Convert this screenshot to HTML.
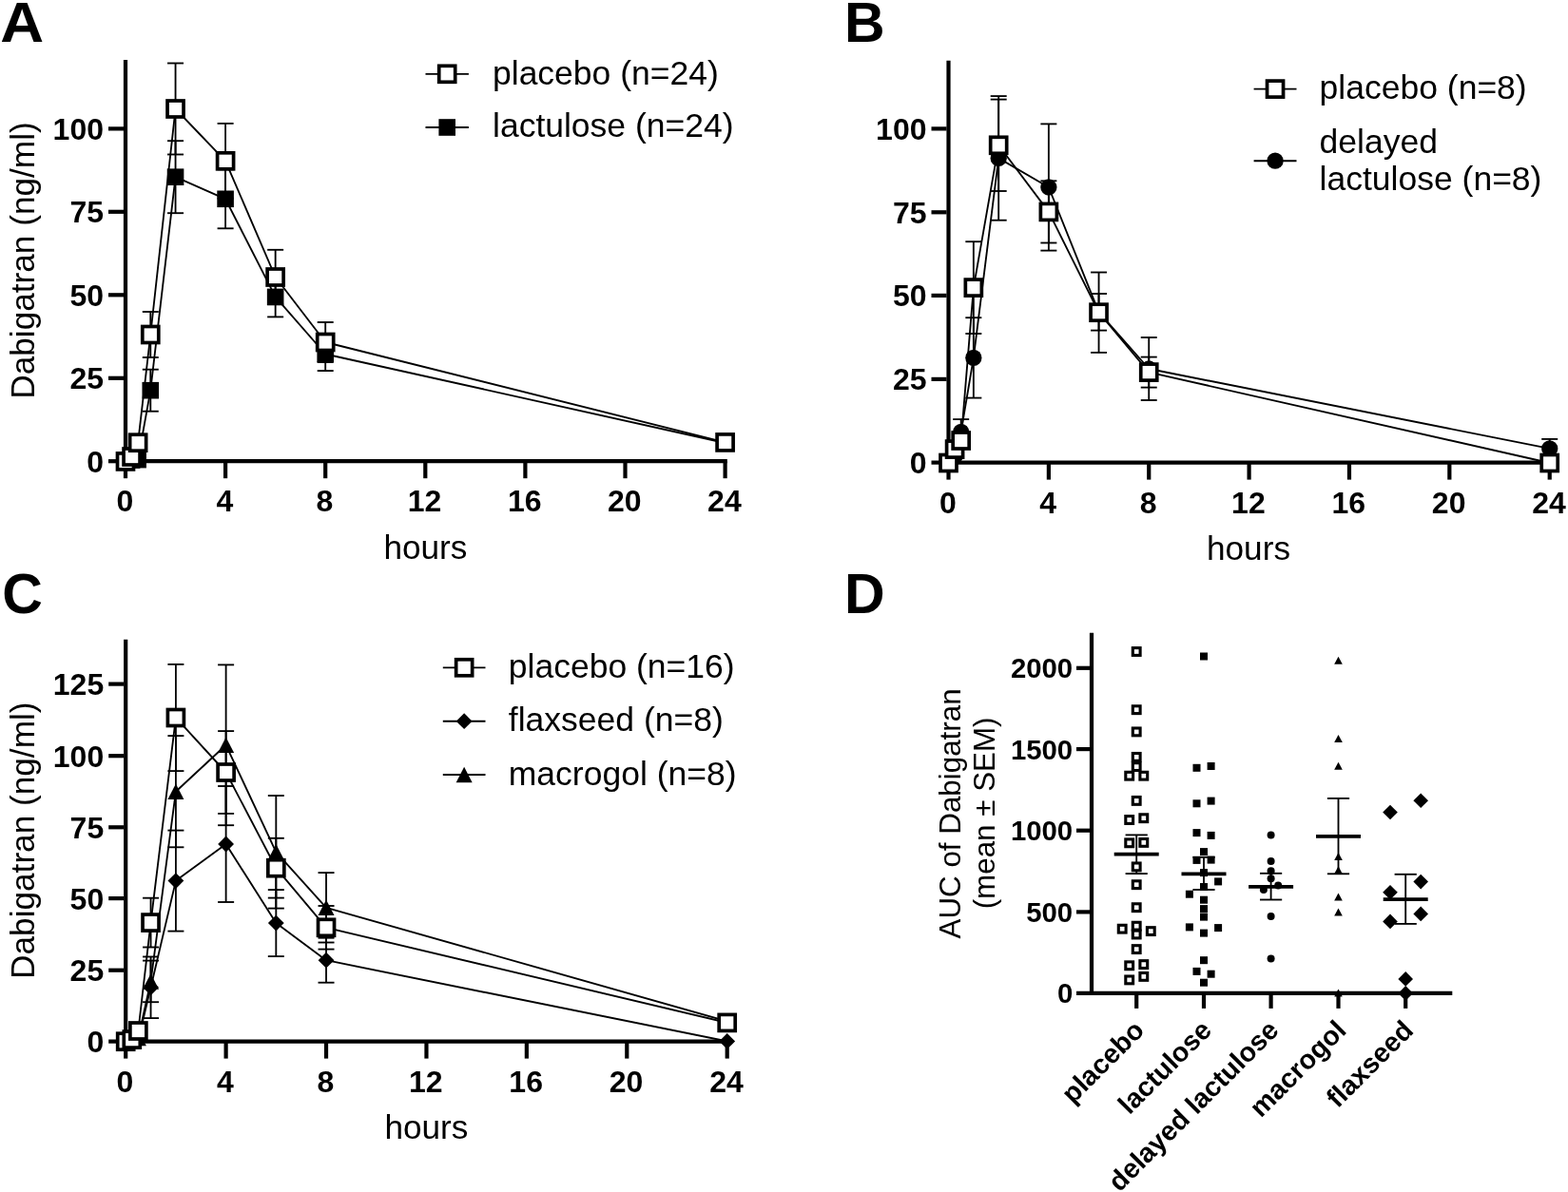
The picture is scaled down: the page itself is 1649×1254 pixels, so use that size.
<!DOCTYPE html>
<html lang="en"><head><meta charset="utf-8"><title>Dabigatran pharmacokinetics figure</title>
<style>html,body{margin:0;padding:0;background:#fff}svg{display:block}text{font-family:'Liberation Sans', sans-serif;fill:#000}</style></head><body>
<svg width="1649" height="1254" viewBox="0 0 1649 1254">
<rect width="1649" height="1254" fill="#fff"/>
<g id="panelA">
<line x1="132.00" y1="63.10" x2="132.00" y2="487.30" stroke="#000" stroke-width="4.2" stroke-linecap="butt"/>
<line x1="129.90" y1="485.20" x2="764.80" y2="485.20" stroke="#000" stroke-width="4.2" stroke-linecap="butt"/>
<line x1="114.00" y1="485.20" x2="130.00" y2="485.20" stroke="#000" stroke-width="4.2" stroke-linecap="butt"/>
<text x="109.00" y="496.60" font-size="32.0" font-weight="bold" text-anchor="end">0</text>
<line x1="114.00" y1="397.80" x2="130.00" y2="397.80" stroke="#000" stroke-width="4.2" stroke-linecap="butt"/>
<text x="109.00" y="409.20" font-size="32.0" font-weight="bold" text-anchor="end">25</text>
<line x1="114.00" y1="310.30" x2="130.00" y2="310.30" stroke="#000" stroke-width="4.2" stroke-linecap="butt"/>
<text x="109.00" y="321.70" font-size="32.0" font-weight="bold" text-anchor="end">50</text>
<line x1="114.00" y1="222.80" x2="130.00" y2="222.80" stroke="#000" stroke-width="4.2" stroke-linecap="butt"/>
<text x="109.00" y="234.20" font-size="32.0" font-weight="bold" text-anchor="end">75</text>
<line x1="114.00" y1="135.40" x2="130.00" y2="135.40" stroke="#000" stroke-width="4.2" stroke-linecap="butt"/>
<text x="109.00" y="146.80" font-size="32.0" font-weight="bold" text-anchor="end">100</text>
<line x1="132.00" y1="485.20" x2="132.00" y2="503.20" stroke="#000" stroke-width="4.2" stroke-linecap="butt"/>
<text x="131.30" y="538.30" font-size="32.0" font-weight="bold" text-anchor="middle">0</text>
<line x1="237.10" y1="485.20" x2="237.10" y2="503.20" stroke="#000" stroke-width="4.2" stroke-linecap="butt"/>
<text x="236.40" y="538.30" font-size="32.0" font-weight="bold" text-anchor="middle">4</text>
<line x1="342.20" y1="485.20" x2="342.20" y2="503.20" stroke="#000" stroke-width="4.2" stroke-linecap="butt"/>
<text x="341.50" y="538.30" font-size="32.0" font-weight="bold" text-anchor="middle">8</text>
<line x1="447.30" y1="485.20" x2="447.30" y2="503.20" stroke="#000" stroke-width="4.2" stroke-linecap="butt"/>
<text x="446.60" y="538.30" font-size="32.0" font-weight="bold" text-anchor="middle">12</text>
<line x1="552.40" y1="485.20" x2="552.40" y2="503.20" stroke="#000" stroke-width="4.2" stroke-linecap="butt"/>
<text x="551.70" y="538.30" font-size="32.0" font-weight="bold" text-anchor="middle">16</text>
<line x1="657.50" y1="485.20" x2="657.50" y2="503.20" stroke="#000" stroke-width="4.2" stroke-linecap="butt"/>
<text x="656.80" y="538.30" font-size="32.0" font-weight="bold" text-anchor="middle">20</text>
<line x1="762.60" y1="485.20" x2="762.60" y2="503.20" stroke="#000" stroke-width="4.2" stroke-linecap="butt"/>
<text x="761.90" y="538.30" font-size="32.0" font-weight="bold" text-anchor="middle">24</text>
<line x1="158.28" y1="388.70" x2="158.28" y2="432.70" stroke="#000" stroke-width="1.85" stroke-linecap="butt"/>
<line x1="149.78" y1="388.70" x2="166.78" y2="388.70" stroke="#000" stroke-width="1.85" stroke-linecap="butt"/>
<line x1="149.78" y1="432.70" x2="166.78" y2="432.70" stroke="#000" stroke-width="1.85" stroke-linecap="butt"/>
<line x1="184.55" y1="148.20" x2="184.55" y2="224.20" stroke="#000" stroke-width="1.85" stroke-linecap="butt"/>
<line x1="176.05" y1="148.20" x2="193.05" y2="148.20" stroke="#000" stroke-width="1.85" stroke-linecap="butt"/>
<line x1="176.05" y1="224.20" x2="193.05" y2="224.20" stroke="#000" stroke-width="1.85" stroke-linecap="butt"/>
<line x1="237.10" y1="178.30" x2="237.10" y2="240.30" stroke="#000" stroke-width="1.85" stroke-linecap="butt"/>
<line x1="228.60" y1="178.30" x2="245.60" y2="178.30" stroke="#000" stroke-width="1.85" stroke-linecap="butt"/>
<line x1="228.60" y1="240.30" x2="245.60" y2="240.30" stroke="#000" stroke-width="1.85" stroke-linecap="butt"/>
<line x1="289.65" y1="291.40" x2="289.65" y2="333.40" stroke="#000" stroke-width="1.85" stroke-linecap="butt"/>
<line x1="281.15" y1="291.40" x2="298.15" y2="291.40" stroke="#000" stroke-width="1.85" stroke-linecap="butt"/>
<line x1="281.15" y1="333.40" x2="298.15" y2="333.40" stroke="#000" stroke-width="1.85" stroke-linecap="butt"/>
<line x1="342.20" y1="354.90" x2="342.20" y2="390.10" stroke="#000" stroke-width="1.85" stroke-linecap="butt"/>
<line x1="333.70" y1="354.90" x2="350.70" y2="354.90" stroke="#000" stroke-width="1.85" stroke-linecap="butt"/>
<line x1="333.70" y1="390.10" x2="350.70" y2="390.10" stroke="#000" stroke-width="1.85" stroke-linecap="butt"/>
<polyline points="132.00,485.20 138.57,484.00 145.14,483.60 158.28,410.70 184.55,186.20 237.10,209.30 289.65,312.40 342.20,372.50 762.60,466.00" fill="none" stroke="#000" stroke-width="1.85" stroke-linejoin="round"/>
<rect x="123.20" y="476.40" width="17.6" height="17.6" fill="#000"/>
<rect x="129.77" y="475.20" width="17.6" height="17.6" fill="#000"/>
<rect x="136.34" y="474.80" width="17.6" height="17.6" fill="#000"/>
<rect x="149.47" y="401.90" width="17.6" height="17.6" fill="#000"/>
<rect x="175.75" y="177.40" width="17.6" height="17.6" fill="#000"/>
<rect x="228.30" y="200.50" width="17.6" height="17.6" fill="#000"/>
<rect x="280.85" y="303.60" width="17.6" height="17.6" fill="#000"/>
<rect x="333.40" y="363.70" width="17.6" height="17.6" fill="#000"/>
<rect x="753.80" y="457.20" width="17.6" height="17.6" fill="#000"/>
<line x1="158.28" y1="328.00" x2="158.28" y2="376.00" stroke="#000" stroke-width="1.85" stroke-linecap="butt"/>
<line x1="149.78" y1="328.00" x2="166.78" y2="328.00" stroke="#000" stroke-width="1.85" stroke-linecap="butt"/>
<line x1="149.78" y1="376.00" x2="166.78" y2="376.00" stroke="#000" stroke-width="1.85" stroke-linecap="butt"/>
<line x1="184.55" y1="66.50" x2="184.55" y2="162.50" stroke="#000" stroke-width="1.85" stroke-linecap="butt"/>
<line x1="176.05" y1="66.50" x2="193.05" y2="66.50" stroke="#000" stroke-width="1.85" stroke-linecap="butt"/>
<line x1="176.05" y1="162.50" x2="193.05" y2="162.50" stroke="#000" stroke-width="1.85" stroke-linecap="butt"/>
<line x1="237.10" y1="129.90" x2="237.10" y2="208.70" stroke="#000" stroke-width="1.85" stroke-linecap="butt"/>
<line x1="228.60" y1="129.90" x2="245.60" y2="129.90" stroke="#000" stroke-width="1.85" stroke-linecap="butt"/>
<line x1="228.60" y1="208.70" x2="245.60" y2="208.70" stroke="#000" stroke-width="1.85" stroke-linecap="butt"/>
<line x1="289.65" y1="262.80" x2="289.65" y2="320.20" stroke="#000" stroke-width="1.85" stroke-linecap="butt"/>
<line x1="281.15" y1="262.80" x2="298.15" y2="262.80" stroke="#000" stroke-width="1.85" stroke-linecap="butt"/>
<line x1="281.15" y1="320.20" x2="298.15" y2="320.20" stroke="#000" stroke-width="1.85" stroke-linecap="butt"/>
<line x1="342.20" y1="339.00" x2="342.20" y2="381.00" stroke="#000" stroke-width="1.85" stroke-linecap="butt"/>
<line x1="333.70" y1="339.00" x2="350.70" y2="339.00" stroke="#000" stroke-width="1.85" stroke-linecap="butt"/>
<line x1="333.70" y1="381.00" x2="350.70" y2="381.00" stroke="#000" stroke-width="1.85" stroke-linecap="butt"/>
<polyline points="132.00,485.40 138.57,480.50 145.14,465.70 158.28,352.00 184.55,114.50 237.10,169.30 289.65,291.50 342.20,360.00 762.60,465.40" fill="none" stroke="#000" stroke-width="1.85" stroke-linejoin="round"/>
<rect x="123.50" y="476.90" width="17.0" height="17.0" fill="#fff" stroke="#000" stroke-width="3.7"/>
<rect x="130.07" y="472.00" width="17.0" height="17.0" fill="#fff" stroke="#000" stroke-width="3.7"/>
<rect x="136.64" y="457.20" width="17.0" height="17.0" fill="#fff" stroke="#000" stroke-width="3.7"/>
<rect x="149.78" y="343.50" width="17.0" height="17.0" fill="#fff" stroke="#000" stroke-width="3.7"/>
<rect x="176.05" y="106.00" width="17.0" height="17.0" fill="#fff" stroke="#000" stroke-width="3.7"/>
<rect x="228.60" y="160.80" width="17.0" height="17.0" fill="#fff" stroke="#000" stroke-width="3.7"/>
<rect x="281.15" y="283.00" width="17.0" height="17.0" fill="#fff" stroke="#000" stroke-width="3.7"/>
<rect x="333.70" y="351.50" width="17.0" height="17.0" fill="#fff" stroke="#000" stroke-width="3.7"/>
<rect x="754.10" y="456.90" width="17.0" height="17.0" fill="#fff" stroke="#000" stroke-width="3.7"/>
<line x1="447.50" y1="77.80" x2="492.90" y2="77.80" stroke="#000" stroke-width="1.85" stroke-linecap="butt"/>
<rect x="461.70" y="69.30" width="17.0" height="17.0" fill="#fff" stroke="#000" stroke-width="3.7"/>
<line x1="447.50" y1="134.00" x2="492.90" y2="134.00" stroke="#000" stroke-width="1.85" stroke-linecap="butt"/>
<rect x="461.40" y="125.20" width="17.6" height="17.6" fill="#000"/>
<text x="518.00" y="88.50" font-size="35.5" text-anchor="start">placebo (n=24)</text>
<text x="518.00" y="144.30" font-size="35.5" text-anchor="start">lactulose (n=24)</text>
<text x="447.40" y="588.00" font-size="35.2" text-anchor="middle">hours</text>
<text x="35.70" y="274.00" font-size="35.2" text-anchor="middle" transform="rotate(-90 35.70 274.00)">Dabigatran (ng/ml)</text>
<text x="0.20" y="44.20" font-size="59.2" font-weight="bold" text-anchor="start" textLength="45.9" lengthAdjust="spacingAndGlyphs">A</text>
</g>
<g id="panelB">
<line x1="997.50" y1="63.80" x2="997.50" y2="488.70" stroke="#000" stroke-width="4.2" stroke-linecap="butt"/>
<line x1="995.40" y1="486.60" x2="1631.70" y2="486.60" stroke="#000" stroke-width="4.2" stroke-linecap="butt"/>
<line x1="979.50" y1="486.60" x2="995.50" y2="486.60" stroke="#000" stroke-width="4.2" stroke-linecap="butt"/>
<text x="974.50" y="498.00" font-size="32.0" font-weight="bold" text-anchor="end">0</text>
<line x1="979.50" y1="398.90" x2="995.50" y2="398.90" stroke="#000" stroke-width="4.2" stroke-linecap="butt"/>
<text x="974.50" y="410.30" font-size="32.0" font-weight="bold" text-anchor="end">25</text>
<line x1="979.50" y1="310.90" x2="995.50" y2="310.90" stroke="#000" stroke-width="4.2" stroke-linecap="butt"/>
<text x="974.50" y="322.30" font-size="32.0" font-weight="bold" text-anchor="end">50</text>
<line x1="979.50" y1="223.30" x2="995.50" y2="223.30" stroke="#000" stroke-width="4.2" stroke-linecap="butt"/>
<text x="974.50" y="234.70" font-size="32.0" font-weight="bold" text-anchor="end">75</text>
<line x1="979.50" y1="135.40" x2="995.50" y2="135.40" stroke="#000" stroke-width="4.2" stroke-linecap="butt"/>
<text x="974.50" y="146.80" font-size="32.0" font-weight="bold" text-anchor="end">100</text>
<line x1="997.50" y1="486.60" x2="997.50" y2="504.60" stroke="#000" stroke-width="4.2" stroke-linecap="butt"/>
<text x="996.80" y="539.70" font-size="32.0" font-weight="bold" text-anchor="middle">0</text>
<line x1="1102.87" y1="486.60" x2="1102.87" y2="504.60" stroke="#000" stroke-width="4.2" stroke-linecap="butt"/>
<text x="1102.17" y="539.70" font-size="32.0" font-weight="bold" text-anchor="middle">4</text>
<line x1="1208.24" y1="486.60" x2="1208.24" y2="504.60" stroke="#000" stroke-width="4.2" stroke-linecap="butt"/>
<text x="1207.54" y="539.70" font-size="32.0" font-weight="bold" text-anchor="middle">8</text>
<line x1="1313.60" y1="486.60" x2="1313.60" y2="504.60" stroke="#000" stroke-width="4.2" stroke-linecap="butt"/>
<text x="1312.90" y="539.70" font-size="32.0" font-weight="bold" text-anchor="middle">12</text>
<line x1="1418.97" y1="486.60" x2="1418.97" y2="504.60" stroke="#000" stroke-width="4.2" stroke-linecap="butt"/>
<text x="1418.27" y="539.70" font-size="32.0" font-weight="bold" text-anchor="middle">16</text>
<line x1="1524.34" y1="486.60" x2="1524.34" y2="504.60" stroke="#000" stroke-width="4.2" stroke-linecap="butt"/>
<text x="1523.64" y="539.70" font-size="32.0" font-weight="bold" text-anchor="middle">20</text>
<line x1="1629.71" y1="486.60" x2="1629.71" y2="504.60" stroke="#000" stroke-width="4.2" stroke-linecap="butt"/>
<text x="1629.01" y="539.70" font-size="32.0" font-weight="bold" text-anchor="middle">24</text>
<line x1="1010.67" y1="441.10" x2="1010.67" y2="467.70" stroke="#000" stroke-width="1.85" stroke-linecap="butt"/>
<line x1="1002.17" y1="441.10" x2="1019.17" y2="441.10" stroke="#000" stroke-width="1.85" stroke-linecap="butt"/>
<line x1="1002.17" y1="467.70" x2="1019.17" y2="467.70" stroke="#000" stroke-width="1.85" stroke-linecap="butt"/>
<line x1="1023.84" y1="334.20" x2="1023.84" y2="418.60" stroke="#000" stroke-width="1.85" stroke-linecap="butt"/>
<line x1="1015.34" y1="334.20" x2="1032.34" y2="334.20" stroke="#000" stroke-width="1.85" stroke-linecap="butt"/>
<line x1="1015.34" y1="418.60" x2="1032.34" y2="418.60" stroke="#000" stroke-width="1.85" stroke-linecap="butt"/>
<line x1="1050.18" y1="101.10" x2="1050.18" y2="231.70" stroke="#000" stroke-width="1.85" stroke-linecap="butt"/>
<line x1="1041.68" y1="101.10" x2="1058.68" y2="101.10" stroke="#000" stroke-width="1.85" stroke-linecap="butt"/>
<line x1="1041.68" y1="231.70" x2="1058.68" y2="231.70" stroke="#000" stroke-width="1.85" stroke-linecap="butt"/>
<line x1="1102.87" y1="130.40" x2="1102.87" y2="263.60" stroke="#000" stroke-width="1.85" stroke-linecap="butt"/>
<line x1="1094.37" y1="130.40" x2="1111.37" y2="130.40" stroke="#000" stroke-width="1.85" stroke-linecap="butt"/>
<line x1="1094.37" y1="263.60" x2="1111.37" y2="263.60" stroke="#000" stroke-width="1.85" stroke-linecap="butt"/>
<line x1="1155.55" y1="309.00" x2="1155.55" y2="347.60" stroke="#000" stroke-width="1.85" stroke-linecap="butt"/>
<line x1="1147.05" y1="309.00" x2="1164.05" y2="309.00" stroke="#000" stroke-width="1.85" stroke-linecap="butt"/>
<line x1="1147.05" y1="347.60" x2="1164.05" y2="347.60" stroke="#000" stroke-width="1.85" stroke-linecap="butt"/>
<line x1="1208.24" y1="355.00" x2="1208.24" y2="421.00" stroke="#000" stroke-width="1.85" stroke-linecap="butt"/>
<line x1="1199.74" y1="355.00" x2="1216.74" y2="355.00" stroke="#000" stroke-width="1.85" stroke-linecap="butt"/>
<line x1="1199.74" y1="421.00" x2="1216.74" y2="421.00" stroke="#000" stroke-width="1.85" stroke-linecap="butt"/>
<line x1="1629.71" y1="461.90" x2="1629.71" y2="481.90" stroke="#000" stroke-width="1.85" stroke-linecap="butt"/>
<line x1="1621.21" y1="461.90" x2="1638.21" y2="461.90" stroke="#000" stroke-width="1.85" stroke-linecap="butt"/>
<line x1="1621.21" y1="481.90" x2="1638.21" y2="481.90" stroke="#000" stroke-width="1.85" stroke-linecap="butt"/>
<polyline points="997.50,486.60 1004.09,480.00 1010.67,454.40 1023.84,376.40 1050.18,166.40 1102.87,197.00 1155.55,328.30 1208.24,388.00 1629.71,471.90" fill="none" stroke="#000" stroke-width="1.85" stroke-linejoin="round"/>
<circle cx="997.50" cy="486.60" r="8.65" fill="#000"/>
<circle cx="1004.09" cy="480.00" r="8.65" fill="#000"/>
<circle cx="1010.67" cy="454.40" r="8.65" fill="#000"/>
<circle cx="1023.84" cy="376.40" r="8.65" fill="#000"/>
<circle cx="1050.18" cy="166.40" r="8.65" fill="#000"/>
<circle cx="1102.87" cy="197.00" r="8.65" fill="#000"/>
<circle cx="1155.55" cy="328.30" r="8.65" fill="#000"/>
<circle cx="1208.24" cy="388.00" r="8.65" fill="#000"/>
<circle cx="1629.71" cy="471.90" r="8.65" fill="#000"/>
<line x1="1023.84" y1="254.20" x2="1023.84" y2="351.00" stroke="#000" stroke-width="1.85" stroke-linecap="butt"/>
<line x1="1015.34" y1="254.20" x2="1032.34" y2="254.20" stroke="#000" stroke-width="1.85" stroke-linecap="butt"/>
<line x1="1015.34" y1="351.00" x2="1032.34" y2="351.00" stroke="#000" stroke-width="1.85" stroke-linecap="butt"/>
<line x1="1050.18" y1="104.60" x2="1050.18" y2="201.00" stroke="#000" stroke-width="1.85" stroke-linecap="butt"/>
<line x1="1041.68" y1="104.60" x2="1058.68" y2="104.60" stroke="#000" stroke-width="1.85" stroke-linecap="butt"/>
<line x1="1041.68" y1="201.00" x2="1058.68" y2="201.00" stroke="#000" stroke-width="1.85" stroke-linecap="butt"/>
<line x1="1102.87" y1="190.30" x2="1102.87" y2="255.50" stroke="#000" stroke-width="1.85" stroke-linecap="butt"/>
<line x1="1094.37" y1="190.30" x2="1111.37" y2="190.30" stroke="#000" stroke-width="1.85" stroke-linecap="butt"/>
<line x1="1094.37" y1="255.50" x2="1111.37" y2="255.50" stroke="#000" stroke-width="1.85" stroke-linecap="butt"/>
<line x1="1155.55" y1="286.50" x2="1155.55" y2="370.90" stroke="#000" stroke-width="1.85" stroke-linecap="butt"/>
<line x1="1147.05" y1="286.50" x2="1164.05" y2="286.50" stroke="#000" stroke-width="1.85" stroke-linecap="butt"/>
<line x1="1147.05" y1="370.90" x2="1164.05" y2="370.90" stroke="#000" stroke-width="1.85" stroke-linecap="butt"/>
<line x1="1208.24" y1="375.60" x2="1208.24" y2="407.60" stroke="#000" stroke-width="1.85" stroke-linecap="butt"/>
<line x1="1199.74" y1="375.60" x2="1216.74" y2="375.60" stroke="#000" stroke-width="1.85" stroke-linecap="butt"/>
<line x1="1199.74" y1="407.60" x2="1216.74" y2="407.60" stroke="#000" stroke-width="1.85" stroke-linecap="butt"/>
<polyline points="997.50,487.00 1004.09,472.60 1010.67,463.50 1023.84,302.60 1050.18,152.80 1102.87,222.90 1155.55,328.70 1208.24,391.60 1629.71,487.00" fill="none" stroke="#000" stroke-width="1.85" stroke-linejoin="round"/>
<rect x="989.00" y="478.50" width="17.0" height="17.0" fill="#fff" stroke="#000" stroke-width="3.7"/>
<rect x="995.59" y="464.10" width="17.0" height="17.0" fill="#fff" stroke="#000" stroke-width="3.7"/>
<rect x="1002.17" y="455.00" width="17.0" height="17.0" fill="#fff" stroke="#000" stroke-width="3.7"/>
<rect x="1015.34" y="294.10" width="17.0" height="17.0" fill="#fff" stroke="#000" stroke-width="3.7"/>
<rect x="1041.68" y="144.30" width="17.0" height="17.0" fill="#fff" stroke="#000" stroke-width="3.7"/>
<rect x="1094.37" y="214.40" width="17.0" height="17.0" fill="#fff" stroke="#000" stroke-width="3.7"/>
<rect x="1147.05" y="320.20" width="17.0" height="17.0" fill="#fff" stroke="#000" stroke-width="3.7"/>
<rect x="1199.74" y="383.10" width="17.0" height="17.0" fill="#fff" stroke="#000" stroke-width="3.7"/>
<rect x="1621.21" y="478.50" width="17.0" height="17.0" fill="#fff" stroke="#000" stroke-width="3.7"/>
<line x1="1318.60" y1="93.60" x2="1363.50" y2="93.60" stroke="#000" stroke-width="1.85" stroke-linecap="butt"/>
<rect x="1332.55" y="85.10" width="17.0" height="17.0" fill="#fff" stroke="#000" stroke-width="3.7"/>
<line x1="1318.60" y1="169.20" x2="1363.50" y2="169.20" stroke="#000" stroke-width="1.85" stroke-linecap="butt"/>
<circle cx="1341.05" cy="169.20" r="8.65" fill="#000"/>
<text x="1387.60" y="103.90" font-size="35.5" text-anchor="start">placebo (n=8)</text>
<text x="1387.60" y="160.60" font-size="35.5" text-anchor="start">delayed</text>
<text x="1387.60" y="200.40" font-size="35.5" text-anchor="start">lactulose (n=8)</text>
<text x="1313.00" y="588.50" font-size="35.2" text-anchor="middle">hours</text>
<text x="887.90" y="44.20" font-size="59.0" font-weight="bold" text-anchor="start">B</text>
</g>
<g id="panelC">
<line x1="132.20" y1="672.80" x2="132.20" y2="1097.70" stroke="#000" stroke-width="4.2" stroke-linecap="butt"/>
<line x1="130.10" y1="1095.60" x2="766.90" y2="1095.60" stroke="#000" stroke-width="4.2" stroke-linecap="butt"/>
<line x1="114.20" y1="1095.60" x2="130.20" y2="1095.60" stroke="#000" stroke-width="4.2" stroke-linecap="butt"/>
<text x="109.20" y="1107.00" font-size="32.0" font-weight="bold" text-anchor="end">0</text>
<line x1="114.20" y1="1020.70" x2="130.20" y2="1020.70" stroke="#000" stroke-width="4.2" stroke-linecap="butt"/>
<text x="109.20" y="1032.10" font-size="32.0" font-weight="bold" text-anchor="end">25</text>
<line x1="114.20" y1="945.10" x2="130.20" y2="945.10" stroke="#000" stroke-width="4.2" stroke-linecap="butt"/>
<text x="109.20" y="956.50" font-size="32.0" font-weight="bold" text-anchor="end">50</text>
<line x1="114.20" y1="870.30" x2="130.20" y2="870.30" stroke="#000" stroke-width="4.2" stroke-linecap="butt"/>
<text x="109.20" y="881.70" font-size="32.0" font-weight="bold" text-anchor="end">75</text>
<line x1="114.20" y1="795.20" x2="130.20" y2="795.20" stroke="#000" stroke-width="4.2" stroke-linecap="butt"/>
<text x="109.20" y="806.60" font-size="32.0" font-weight="bold" text-anchor="end">100</text>
<line x1="114.20" y1="719.60" x2="130.20" y2="719.60" stroke="#000" stroke-width="4.2" stroke-linecap="butt"/>
<text x="109.20" y="731.00" font-size="32.0" font-weight="bold" text-anchor="end">125</text>
<line x1="132.20" y1="1095.60" x2="132.20" y2="1113.60" stroke="#000" stroke-width="4.2" stroke-linecap="butt"/>
<text x="131.50" y="1148.70" font-size="32.0" font-weight="bold" text-anchor="middle">0</text>
<line x1="237.62" y1="1095.60" x2="237.62" y2="1113.60" stroke="#000" stroke-width="4.2" stroke-linecap="butt"/>
<text x="236.92" y="1148.70" font-size="32.0" font-weight="bold" text-anchor="middle">4</text>
<line x1="343.03" y1="1095.60" x2="343.03" y2="1113.60" stroke="#000" stroke-width="4.2" stroke-linecap="butt"/>
<text x="342.33" y="1148.70" font-size="32.0" font-weight="bold" text-anchor="middle">8</text>
<line x1="448.45" y1="1095.60" x2="448.45" y2="1113.60" stroke="#000" stroke-width="4.2" stroke-linecap="butt"/>
<text x="447.75" y="1148.70" font-size="32.0" font-weight="bold" text-anchor="middle">12</text>
<line x1="553.86" y1="1095.60" x2="553.86" y2="1113.60" stroke="#000" stroke-width="4.2" stroke-linecap="butt"/>
<text x="553.16" y="1148.70" font-size="32.0" font-weight="bold" text-anchor="middle">16</text>
<line x1="659.28" y1="1095.60" x2="659.28" y2="1113.60" stroke="#000" stroke-width="4.2" stroke-linecap="butt"/>
<text x="658.58" y="1148.70" font-size="32.0" font-weight="bold" text-anchor="middle">20</text>
<line x1="764.70" y1="1095.60" x2="764.70" y2="1113.60" stroke="#000" stroke-width="4.2" stroke-linecap="butt"/>
<text x="764.00" y="1148.70" font-size="32.0" font-weight="bold" text-anchor="middle">24</text>
<line x1="158.55" y1="1010.60" x2="158.55" y2="1054.20" stroke="#000" stroke-width="1.85" stroke-linecap="butt"/>
<line x1="150.05" y1="1010.60" x2="167.05" y2="1010.60" stroke="#000" stroke-width="1.85" stroke-linecap="butt"/>
<line x1="150.05" y1="1054.20" x2="167.05" y2="1054.20" stroke="#000" stroke-width="1.85" stroke-linecap="butt"/>
<line x1="184.91" y1="774.10" x2="184.91" y2="891.30" stroke="#000" stroke-width="1.85" stroke-linecap="butt"/>
<line x1="176.41" y1="774.10" x2="193.41" y2="774.10" stroke="#000" stroke-width="1.85" stroke-linecap="butt"/>
<line x1="176.41" y1="891.30" x2="193.41" y2="891.30" stroke="#000" stroke-width="1.85" stroke-linecap="butt"/>
<line x1="237.62" y1="699.40" x2="237.62" y2="868.20" stroke="#000" stroke-width="1.85" stroke-linecap="butt"/>
<line x1="229.12" y1="699.40" x2="246.12" y2="699.40" stroke="#000" stroke-width="1.85" stroke-linecap="butt"/>
<line x1="229.12" y1="868.20" x2="246.12" y2="868.20" stroke="#000" stroke-width="1.85" stroke-linecap="butt"/>
<line x1="290.32" y1="837.00" x2="290.32" y2="955.60" stroke="#000" stroke-width="1.85" stroke-linecap="butt"/>
<line x1="281.82" y1="837.00" x2="298.82" y2="837.00" stroke="#000" stroke-width="1.85" stroke-linecap="butt"/>
<line x1="281.82" y1="955.60" x2="298.82" y2="955.60" stroke="#000" stroke-width="1.85" stroke-linecap="butt"/>
<line x1="343.03" y1="918.10" x2="343.03" y2="991.50" stroke="#000" stroke-width="1.85" stroke-linecap="butt"/>
<line x1="334.53" y1="918.10" x2="351.53" y2="918.10" stroke="#000" stroke-width="1.85" stroke-linecap="butt"/>
<line x1="334.53" y1="991.50" x2="351.53" y2="991.50" stroke="#000" stroke-width="1.85" stroke-linecap="butt"/>
<polyline points="132.20,1095.60 138.79,1095.00 145.38,1092.00 158.55,1032.40 184.91,832.70 237.62,783.80 290.32,896.30 343.03,954.80 764.70,1074.50" fill="none" stroke="#000" stroke-width="1.85" stroke-linejoin="round"/>
<polygon points="132.20,1087.35 140.70,1103.85 123.70,1103.85" fill="#000"/>
<polygon points="138.79,1086.75 147.29,1103.25 130.29,1103.25" fill="#000"/>
<polygon points="145.38,1083.75 153.88,1100.25 136.88,1100.25" fill="#000"/>
<polygon points="158.55,1024.15 167.05,1040.65 150.05,1040.65" fill="#000"/>
<polygon points="184.91,824.45 193.41,840.95 176.41,840.95" fill="#000"/>
<polygon points="237.62,775.55 246.12,792.05 229.12,792.05" fill="#000"/>
<polygon points="290.32,888.05 298.82,904.55 281.82,904.55" fill="#000"/>
<polygon points="343.03,946.55 351.53,963.05 334.53,963.05" fill="#000"/>
<polygon points="764.70,1066.25 773.20,1082.75 756.20,1082.75" fill="#000"/>
<line x1="158.55" y1="1006.50" x2="158.55" y2="1071.10" stroke="#000" stroke-width="1.85" stroke-linecap="butt"/>
<line x1="150.05" y1="1006.50" x2="167.05" y2="1006.50" stroke="#000" stroke-width="1.85" stroke-linecap="butt"/>
<line x1="150.05" y1="1071.10" x2="167.05" y2="1071.10" stroke="#000" stroke-width="1.85" stroke-linecap="butt"/>
<line x1="184.91" y1="873.60" x2="184.91" y2="979.60" stroke="#000" stroke-width="1.85" stroke-linecap="butt"/>
<line x1="176.41" y1="873.60" x2="193.41" y2="873.60" stroke="#000" stroke-width="1.85" stroke-linecap="butt"/>
<line x1="176.41" y1="979.60" x2="193.41" y2="979.60" stroke="#000" stroke-width="1.85" stroke-linecap="butt"/>
<line x1="237.62" y1="827.00" x2="237.62" y2="949.00" stroke="#000" stroke-width="1.85" stroke-linecap="butt"/>
<line x1="229.12" y1="827.00" x2="246.12" y2="827.00" stroke="#000" stroke-width="1.85" stroke-linecap="butt"/>
<line x1="229.12" y1="949.00" x2="246.12" y2="949.00" stroke="#000" stroke-width="1.85" stroke-linecap="butt"/>
<line x1="290.32" y1="936.10" x2="290.32" y2="1006.10" stroke="#000" stroke-width="1.85" stroke-linecap="butt"/>
<line x1="281.82" y1="936.10" x2="298.82" y2="936.10" stroke="#000" stroke-width="1.85" stroke-linecap="butt"/>
<line x1="281.82" y1="1006.10" x2="298.82" y2="1006.10" stroke="#000" stroke-width="1.85" stroke-linecap="butt"/>
<line x1="343.03" y1="986.70" x2="343.03" y2="1033.70" stroke="#000" stroke-width="1.85" stroke-linecap="butt"/>
<line x1="334.53" y1="986.70" x2="351.53" y2="986.70" stroke="#000" stroke-width="1.85" stroke-linecap="butt"/>
<line x1="334.53" y1="1033.70" x2="351.53" y2="1033.70" stroke="#000" stroke-width="1.85" stroke-linecap="butt"/>
<polyline points="132.20,1095.60 138.79,1095.60 145.38,1094.00 158.55,1038.80 184.91,926.60 237.62,888.00 290.32,971.10 343.03,1010.20 764.70,1095.40" fill="none" stroke="#000" stroke-width="1.85" stroke-linejoin="round"/>
<polygon points="132.20,1087.20 140.60,1095.60 132.20,1104.00 123.80,1095.60" fill="#000"/>
<polygon points="138.79,1087.20 147.19,1095.60 138.79,1104.00 130.39,1095.60" fill="#000"/>
<polygon points="145.38,1085.60 153.78,1094.00 145.38,1102.40 136.98,1094.00" fill="#000"/>
<polygon points="158.55,1030.40 166.95,1038.80 158.55,1047.20 150.15,1038.80" fill="#000"/>
<polygon points="184.91,918.20 193.31,926.60 184.91,935.00 176.51,926.60" fill="#000"/>
<polygon points="237.62,879.60 246.02,888.00 237.62,896.40 229.22,888.00" fill="#000"/>
<polygon points="290.32,962.70 298.72,971.10 290.32,979.50 281.92,971.10" fill="#000"/>
<polygon points="343.03,1001.80 351.43,1010.20 343.03,1018.60 334.63,1010.20" fill="#000"/>
<polygon points="764.70,1087.00 773.10,1095.40 764.70,1103.80 756.30,1095.40" fill="#000"/>
<line x1="158.55" y1="944.70" x2="158.55" y2="996.50" stroke="#000" stroke-width="1.85" stroke-linecap="butt"/>
<line x1="150.05" y1="944.70" x2="167.05" y2="944.70" stroke="#000" stroke-width="1.85" stroke-linecap="butt"/>
<line x1="150.05" y1="996.50" x2="167.05" y2="996.50" stroke="#000" stroke-width="1.85" stroke-linecap="butt"/>
<line x1="184.91" y1="698.90" x2="184.91" y2="811.10" stroke="#000" stroke-width="1.85" stroke-linecap="butt"/>
<line x1="176.41" y1="698.90" x2="193.41" y2="698.90" stroke="#000" stroke-width="1.85" stroke-linecap="butt"/>
<line x1="176.41" y1="811.10" x2="193.41" y2="811.10" stroke="#000" stroke-width="1.85" stroke-linecap="butt"/>
<line x1="237.62" y1="769.10" x2="237.62" y2="855.90" stroke="#000" stroke-width="1.85" stroke-linecap="butt"/>
<line x1="229.12" y1="769.10" x2="246.12" y2="769.10" stroke="#000" stroke-width="1.85" stroke-linecap="butt"/>
<line x1="229.12" y1="855.90" x2="246.12" y2="855.90" stroke="#000" stroke-width="1.85" stroke-linecap="butt"/>
<line x1="290.32" y1="881.80" x2="290.32" y2="944.60" stroke="#000" stroke-width="1.85" stroke-linecap="butt"/>
<line x1="281.82" y1="881.80" x2="298.82" y2="881.80" stroke="#000" stroke-width="1.85" stroke-linecap="butt"/>
<line x1="281.82" y1="944.60" x2="298.82" y2="944.60" stroke="#000" stroke-width="1.85" stroke-linecap="butt"/>
<line x1="343.03" y1="953.00" x2="343.03" y2="998.60" stroke="#000" stroke-width="1.85" stroke-linecap="butt"/>
<line x1="334.53" y1="953.00" x2="351.53" y2="953.00" stroke="#000" stroke-width="1.85" stroke-linecap="butt"/>
<line x1="334.53" y1="998.60" x2="351.53" y2="998.60" stroke="#000" stroke-width="1.85" stroke-linecap="butt"/>
<polyline points="132.20,1095.70 138.79,1093.60 145.38,1084.50 158.55,970.60 184.91,755.00 237.62,812.50 290.32,913.20 343.03,975.80 764.70,1075.90" fill="none" stroke="#000" stroke-width="1.85" stroke-linejoin="round"/>
<rect x="123.70" y="1087.20" width="17.0" height="17.0" fill="#fff" stroke="#000" stroke-width="3.7"/>
<rect x="130.29" y="1085.10" width="17.0" height="17.0" fill="#fff" stroke="#000" stroke-width="3.7"/>
<rect x="136.88" y="1076.00" width="17.0" height="17.0" fill="#fff" stroke="#000" stroke-width="3.7"/>
<rect x="150.05" y="962.10" width="17.0" height="17.0" fill="#fff" stroke="#000" stroke-width="3.7"/>
<rect x="176.41" y="746.50" width="17.0" height="17.0" fill="#fff" stroke="#000" stroke-width="3.7"/>
<rect x="229.12" y="804.00" width="17.0" height="17.0" fill="#fff" stroke="#000" stroke-width="3.7"/>
<rect x="281.82" y="904.70" width="17.0" height="17.0" fill="#fff" stroke="#000" stroke-width="3.7"/>
<rect x="334.53" y="967.30" width="17.0" height="17.0" fill="#fff" stroke="#000" stroke-width="3.7"/>
<rect x="756.20" y="1067.40" width="17.0" height="17.0" fill="#fff" stroke="#000" stroke-width="3.7"/>
<line x1="465.80" y1="702.30" x2="510.50" y2="702.30" stroke="#000" stroke-width="1.85" stroke-linecap="butt"/>
<rect x="479.65" y="693.80" width="17.0" height="17.0" fill="#fff" stroke="#000" stroke-width="3.7"/>
<line x1="465.80" y1="758.70" x2="510.50" y2="758.70" stroke="#000" stroke-width="1.85" stroke-linecap="butt"/>
<polygon points="488.15,750.30 496.55,758.70 488.15,767.10 479.75,758.70" fill="#000"/>
<line x1="465.80" y1="815.00" x2="510.50" y2="815.00" stroke="#000" stroke-width="1.85" stroke-linecap="butt"/>
<polygon points="488.15,806.75 496.65,823.25 479.65,823.25" fill="#000"/>
<text x="534.80" y="713.00" font-size="35.5" text-anchor="start">placebo (n=16)</text>
<text x="534.80" y="769.10" font-size="35.5" text-anchor="start">flaxseed (n=8)</text>
<text x="534.80" y="825.50" font-size="35.5" text-anchor="start">macrogol (n=8)</text>
<text x="448.40" y="1198.40" font-size="35.2" text-anchor="middle">hours</text>
<text x="35.70" y="884.20" font-size="35.2" text-anchor="middle" transform="rotate(-90 35.70 884.20)">Dabigatran (ng/ml)</text>
<text x="2.30" y="645.20" font-size="59.0" font-weight="bold" text-anchor="start">C</text>
</g>
<g id="panelD">
<line x1="1148.00" y1="665.70" x2="1148.00" y2="1047.00" stroke="#000" stroke-width="4.2" stroke-linecap="butt"/>
<line x1="1132.00" y1="1044.90" x2="1527.30" y2="1044.90" stroke="#000" stroke-width="4.2" stroke-linecap="butt"/>
<line x1="1132.00" y1="959.40" x2="1146.00" y2="959.40" stroke="#000" stroke-width="4.2" stroke-linecap="butt"/>
<text x="1128.20" y="969.80" font-size="29.33" font-weight="bold" text-anchor="end">500</text>
<line x1="1132.00" y1="873.70" x2="1146.00" y2="873.70" stroke="#000" stroke-width="4.2" stroke-linecap="butt"/>
<text x="1128.20" y="884.10" font-size="29.33" font-weight="bold" text-anchor="end">1000</text>
<line x1="1132.00" y1="788.10" x2="1146.00" y2="788.10" stroke="#000" stroke-width="4.2" stroke-linecap="butt"/>
<text x="1128.20" y="798.50" font-size="29.33" font-weight="bold" text-anchor="end">1500</text>
<line x1="1132.00" y1="702.80" x2="1146.00" y2="702.80" stroke="#000" stroke-width="4.2" stroke-linecap="butt"/>
<text x="1128.20" y="713.20" font-size="29.33" font-weight="bold" text-anchor="end">2000</text>
<text x="1128.20" y="1055.30" font-size="29.33" font-weight="bold" text-anchor="end">0</text>
<line x1="1195.20" y1="1044.90" x2="1195.20" y2="1060.90" stroke="#000" stroke-width="4.2" stroke-linecap="butt"/>
<text x="1205.00" y="1085.50" font-size="28.7" font-weight="bold" text-anchor="end" transform="rotate(-45 1205.00 1085.50)">placebo</text>
<line x1="1266.00" y1="1044.90" x2="1266.00" y2="1060.90" stroke="#000" stroke-width="4.2" stroke-linecap="butt"/>
<text x="1275.80" y="1085.50" font-size="28.7" font-weight="bold" text-anchor="end" transform="rotate(-45 1275.80 1085.50)">lactulose</text>
<line x1="1336.60" y1="1044.90" x2="1336.60" y2="1060.90" stroke="#000" stroke-width="4.2" stroke-linecap="butt"/>
<text x="1346.40" y="1085.50" font-size="28.7" font-weight="bold" text-anchor="end" transform="rotate(-45 1346.40 1085.50)">delayed lactulose</text>
<line x1="1407.50" y1="1044.90" x2="1407.50" y2="1060.90" stroke="#000" stroke-width="4.2" stroke-linecap="butt"/>
<text x="1417.30" y="1085.50" font-size="28.7" font-weight="bold" text-anchor="end" transform="rotate(-45 1417.30 1085.50)">macrogol</text>
<line x1="1478.20" y1="1044.90" x2="1478.20" y2="1060.90" stroke="#000" stroke-width="4.2" stroke-linecap="butt"/>
<text x="1488.00" y="1085.50" font-size="28.7" font-weight="bold" text-anchor="end" transform="rotate(-45 1488.00 1085.50)">flaxseed</text>
<line x1="1195.20" y1="878.40" x2="1195.20" y2="919.10" stroke="#000" stroke-width="1.85" stroke-linecap="butt"/>
<line x1="1183.60" y1="878.40" x2="1206.80" y2="878.40" stroke="#000" stroke-width="1.85" stroke-linecap="butt"/>
<line x1="1183.60" y1="919.10" x2="1206.80" y2="919.10" stroke="#000" stroke-width="1.85" stroke-linecap="butt"/>
<line x1="1171.70" y1="898.60" x2="1218.70" y2="898.60" stroke="#000" stroke-width="3.8" stroke-linecap="butt"/>
<rect x="1191.30" y="681.60" width="7.8" height="7.8" fill="#fff" stroke="#000" stroke-width="3.1"/>
<rect x="1191.30" y="742.80" width="7.8" height="7.8" fill="#fff" stroke="#000" stroke-width="3.1"/>
<rect x="1191.30" y="766.00" width="7.8" height="7.8" fill="#fff" stroke="#000" stroke-width="3.1"/>
<rect x="1191.30" y="792.50" width="7.8" height="7.8" fill="#fff" stroke="#000" stroke-width="3.1"/>
<rect x="1191.30" y="802.70" width="7.8" height="7.8" fill="#fff" stroke="#000" stroke-width="3.1"/>
<rect x="1183.80" y="812.30" width="7.8" height="7.8" fill="#fff" stroke="#000" stroke-width="3.1"/>
<rect x="1198.90" y="812.30" width="7.8" height="7.8" fill="#fff" stroke="#000" stroke-width="3.1"/>
<rect x="1191.30" y="838.50" width="7.8" height="7.8" fill="#fff" stroke="#000" stroke-width="3.1"/>
<rect x="1183.80" y="858.60" width="7.8" height="7.8" fill="#fff" stroke="#000" stroke-width="3.1"/>
<rect x="1198.90" y="856.80" width="7.8" height="7.8" fill="#fff" stroke="#000" stroke-width="3.1"/>
<rect x="1183.80" y="882.90" width="7.8" height="7.8" fill="#fff" stroke="#000" stroke-width="3.1"/>
<rect x="1198.90" y="882.50" width="7.8" height="7.8" fill="#fff" stroke="#000" stroke-width="3.1"/>
<rect x="1191.30" y="908.00" width="7.8" height="7.8" fill="#fff" stroke="#000" stroke-width="3.1"/>
<rect x="1191.30" y="926.80" width="7.8" height="7.8" fill="#fff" stroke="#000" stroke-width="3.1"/>
<rect x="1191.30" y="950.80" width="7.8" height="7.8" fill="#fff" stroke="#000" stroke-width="3.1"/>
<rect x="1191.30" y="970.30" width="7.8" height="7.8" fill="#fff" stroke="#000" stroke-width="3.1"/>
<rect x="1176.30" y="973.30" width="7.8" height="7.8" fill="#fff" stroke="#000" stroke-width="3.1"/>
<rect x="1206.40" y="975.70" width="7.8" height="7.8" fill="#fff" stroke="#000" stroke-width="3.1"/>
<rect x="1191.30" y="979.10" width="7.8" height="7.8" fill="#fff" stroke="#000" stroke-width="3.1"/>
<rect x="1191.30" y="994.70" width="7.8" height="7.8" fill="#fff" stroke="#000" stroke-width="3.1"/>
<rect x="1183.80" y="1011.90" width="7.8" height="7.8" fill="#fff" stroke="#000" stroke-width="3.1"/>
<rect x="1198.90" y="1010.70" width="7.8" height="7.8" fill="#fff" stroke="#000" stroke-width="3.1"/>
<rect x="1183.80" y="1027.00" width="7.8" height="7.8" fill="#fff" stroke="#000" stroke-width="3.1"/>
<rect x="1198.90" y="1023.50" width="7.8" height="7.8" fill="#fff" stroke="#000" stroke-width="3.1"/>
<line x1="1266.00" y1="901.80" x2="1266.00" y2="936.00" stroke="#000" stroke-width="1.85" stroke-linecap="butt"/>
<line x1="1254.40" y1="901.80" x2="1277.60" y2="901.80" stroke="#000" stroke-width="1.85" stroke-linecap="butt"/>
<line x1="1254.40" y1="936.00" x2="1277.60" y2="936.00" stroke="#000" stroke-width="1.85" stroke-linecap="butt"/>
<line x1="1242.50" y1="919.30" x2="1289.50" y2="919.30" stroke="#000" stroke-width="3.8" stroke-linecap="butt"/>
<rect x="1262.00" y="686.50" width="8.0" height="8.0" fill="#000"/>
<rect x="1254.50" y="803.80" width="8.0" height="8.0" fill="#000"/>
<rect x="1269.60" y="802.00" width="8.0" height="8.0" fill="#000"/>
<rect x="1254.50" y="841.30" width="8.0" height="8.0" fill="#000"/>
<rect x="1269.60" y="838.60" width="8.0" height="8.0" fill="#000"/>
<rect x="1254.50" y="872.10" width="8.0" height="8.0" fill="#000"/>
<rect x="1269.60" y="874.90" width="8.0" height="8.0" fill="#000"/>
<rect x="1262.00" y="892.10" width="8.0" height="8.0" fill="#000"/>
<rect x="1254.50" y="900.90" width="8.0" height="8.0" fill="#000"/>
<rect x="1269.60" y="900.60" width="8.0" height="8.0" fill="#000"/>
<rect x="1262.00" y="914.10" width="8.0" height="8.0" fill="#000"/>
<rect x="1277.10" y="923.40" width="8.0" height="8.0" fill="#000"/>
<rect x="1262.00" y="929.00" width="8.0" height="8.0" fill="#000"/>
<rect x="1246.90" y="936.70" width="8.0" height="8.0" fill="#000"/>
<rect x="1262.00" y="942.70" width="8.0" height="8.0" fill="#000"/>
<rect x="1262.00" y="952.10" width="8.0" height="8.0" fill="#000"/>
<rect x="1262.00" y="960.60" width="8.0" height="8.0" fill="#000"/>
<rect x="1246.90" y="971.40" width="8.0" height="8.0" fill="#000"/>
<rect x="1277.10" y="972.10" width="8.0" height="8.0" fill="#000"/>
<rect x="1262.00" y="977.60" width="8.0" height="8.0" fill="#000"/>
<rect x="1262.00" y="1006.20" width="8.0" height="8.0" fill="#000"/>
<rect x="1254.50" y="1017.90" width="8.0" height="8.0" fill="#000"/>
<rect x="1269.60" y="1020.70" width="8.0" height="8.0" fill="#000"/>
<rect x="1262.00" y="1029.70" width="8.0" height="8.0" fill="#000"/>
<line x1="1336.60" y1="918.80" x2="1336.60" y2="946.50" stroke="#000" stroke-width="1.85" stroke-linecap="butt"/>
<line x1="1325.00" y1="918.80" x2="1348.20" y2="918.80" stroke="#000" stroke-width="1.85" stroke-linecap="butt"/>
<line x1="1325.00" y1="946.50" x2="1348.20" y2="946.50" stroke="#000" stroke-width="1.85" stroke-linecap="butt"/>
<line x1="1313.10" y1="932.80" x2="1360.10" y2="932.80" stroke="#000" stroke-width="3.8" stroke-linecap="butt"/>
<circle cx="1336.60" cy="878.60" r="4.0" fill="#000"/>
<circle cx="1336.60" cy="906.10" r="4.0" fill="#000"/>
<circle cx="1336.60" cy="916.30" r="4.0" fill="#000"/>
<circle cx="1336.60" cy="924.20" r="4.0" fill="#000"/>
<circle cx="1344.20" cy="931.60" r="4.0" fill="#000"/>
<circle cx="1328.90" cy="936.10" r="4.0" fill="#000"/>
<circle cx="1336.60" cy="963.90" r="4.0" fill="#000"/>
<circle cx="1336.60" cy="1008.40" r="4.0" fill="#000"/>
<line x1="1407.50" y1="839.90" x2="1407.50" y2="919.30" stroke="#000" stroke-width="1.85" stroke-linecap="butt"/>
<line x1="1395.90" y1="839.90" x2="1419.10" y2="839.90" stroke="#000" stroke-width="1.85" stroke-linecap="butt"/>
<line x1="1395.90" y1="919.30" x2="1419.10" y2="919.30" stroke="#000" stroke-width="1.85" stroke-linecap="butt"/>
<line x1="1384.00" y1="879.80" x2="1431.00" y2="879.80" stroke="#000" stroke-width="3.8" stroke-linecap="butt"/>
<polygon points="1407.50,690.80 1411.80,698.80 1403.20,698.80" fill="#000"/>
<polygon points="1407.50,772.90 1411.80,780.90 1403.20,780.90" fill="#000"/>
<polygon points="1407.50,801.70 1411.80,809.70 1403.20,809.70" fill="#000"/>
<polygon points="1407.50,897.00 1411.80,905.00 1403.20,905.00" fill="#000"/>
<polygon points="1407.50,911.30 1411.80,919.30 1403.20,919.30" fill="#000"/>
<polygon points="1407.50,939.60 1411.80,947.60 1403.20,947.60" fill="#000"/>
<polygon points="1407.50,955.60 1411.80,963.60 1403.20,963.60" fill="#000"/>
<polygon points="1407.50,1040.40 1411.80,1048.40 1403.20,1048.40" fill="#000"/>
<line x1="1478.20" y1="919.80" x2="1478.20" y2="971.90" stroke="#000" stroke-width="1.85" stroke-linecap="butt"/>
<line x1="1466.60" y1="919.80" x2="1489.80" y2="919.80" stroke="#000" stroke-width="1.85" stroke-linecap="butt"/>
<line x1="1466.60" y1="971.90" x2="1489.80" y2="971.90" stroke="#000" stroke-width="1.85" stroke-linecap="butt"/>
<line x1="1454.70" y1="946.10" x2="1501.70" y2="946.10" stroke="#000" stroke-width="3.8" stroke-linecap="butt"/>
<polygon points="1462.00,846.70 1469.80,854.50 1462.00,862.30 1454.20,854.50" fill="#000"/>
<polygon points="1494.20,834.40 1502.00,842.20 1494.20,850.00 1486.40,842.20" fill="#000"/>
<polygon points="1494.20,919.80 1502.00,927.60 1494.20,935.40 1486.40,927.60" fill="#000"/>
<polygon points="1462.00,931.00 1469.80,938.80 1462.00,946.60 1454.20,938.80" fill="#000"/>
<polygon points="1494.20,953.60 1502.00,961.40 1494.20,969.20 1486.40,961.40" fill="#000"/>
<polygon points="1462.00,961.60 1469.80,969.40 1462.00,977.20 1454.20,969.40" fill="#000"/>
<polygon points="1478.20,1022.10 1486.00,1029.90 1478.20,1037.70 1470.40,1029.90" fill="#000"/>
<polygon points="1478.20,1037.10 1486.00,1044.90 1478.20,1052.70 1470.40,1044.90" fill="#000"/>
<text x="1010.20" y="855.90" font-size="31.35" text-anchor="middle" transform="rotate(-90 1010.20 855.90)">AUC of Dabigatran</text>
<text x="1046.40" y="855.40" font-size="31.35" text-anchor="middle" transform="rotate(-90 1046.40 855.40)">(mean ± SEM)</text>
<text x="887.90" y="644.70" font-size="59.0" font-weight="bold" text-anchor="start">D</text>
</g>
</svg></body></html>
